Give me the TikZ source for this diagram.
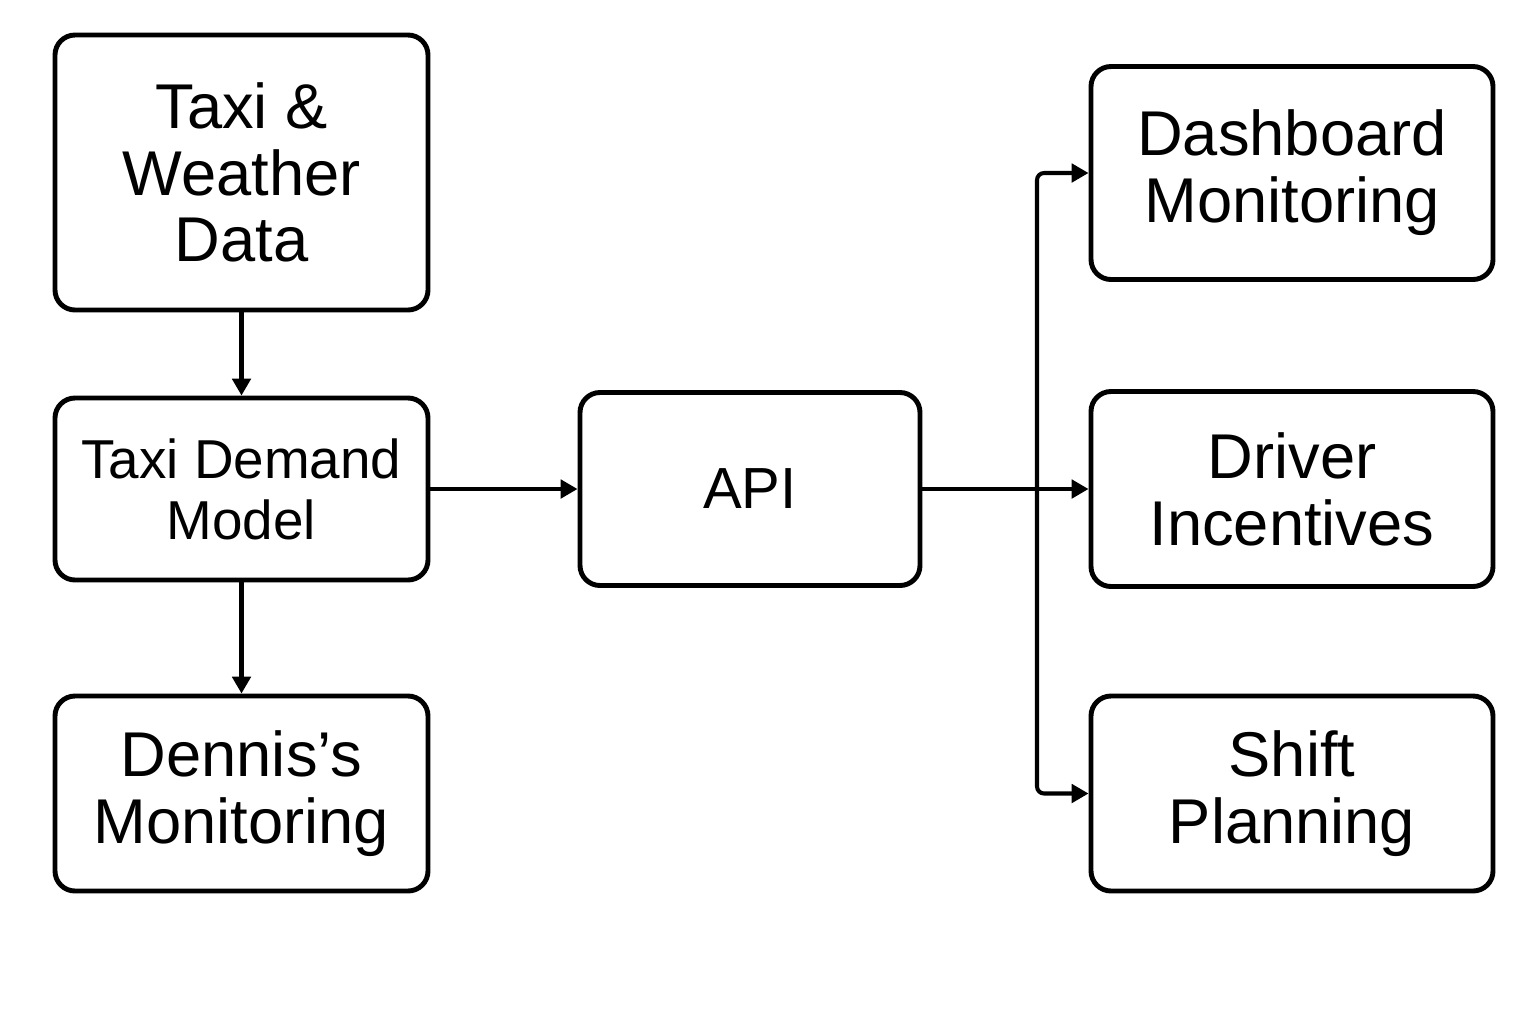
\documentclass[tikz,border=0pt]{standalone}
\usepackage{fontspec}
\setmainfont{Liberation Sans}
\usetikzlibrary{arrows.meta}
\begin{document}
\begin{tikzpicture}[
	box/.style={draw, line width=1.4pt, rounded corners=0.2cm, align=center, inner sep=0pt,
		minimum width=3.73cm, font=\fontsize{18}{19}\selectfont},
	wbox/.style={box, minimum width=4.02cm},
	arr/.style={-{Triangle[length=4.8pt, width=5.2pt]}, line width=1.15pt}]
					\useasboundingbox (0,0) rectangle (15.36,-10.24);

					\node (A) at (2.415,-1.725) [box, minimum height=2.75cm] {Taxi \&\\Weather\\Data};
					\node (B) at (2.415,-4.89)  [box, minimum height=1.82cm, font=\fontsize{15.6}{17.4}\selectfont] {Taxi Demand\\Model};
					\node (C) at (2.415,-7.935) [box, minimum height=1.95cm] {Dennis’s\\Monitoring};
					\node (D) at (7.50,-4.89)   [box, minimum width=3.40cm, minimum height=1.93cm, font=\fontsize{16.5}{18}\selectfont] {API};
					\node (E) at (12.92,-1.73)  [wbox, minimum height=2.13cm] {Dashboard\\Monitoring};
					\node (F) at (12.92,-4.89)  [wbox, minimum height=1.95cm] {Driver\\Incentives};
					\node (G) at (12.92,-7.935) [wbox, minimum height=1.95cm] {Shift\\Planning};
					\coordinate (S) at (10.37,-4.89);

					% Draw the arrows between the nodes
					\draw[arr] (A) -- (B);
					\draw[arr] (B) -- (C);
					\draw[arr] (B) -- (D);
					\draw[arr] (D) -- (F);
					\draw[arr, rounded corners=2pt] (S) |- (E);
					\draw[arr, rounded corners=2pt] (S) |- (G);
				\end{tikzpicture}
\end{document}
